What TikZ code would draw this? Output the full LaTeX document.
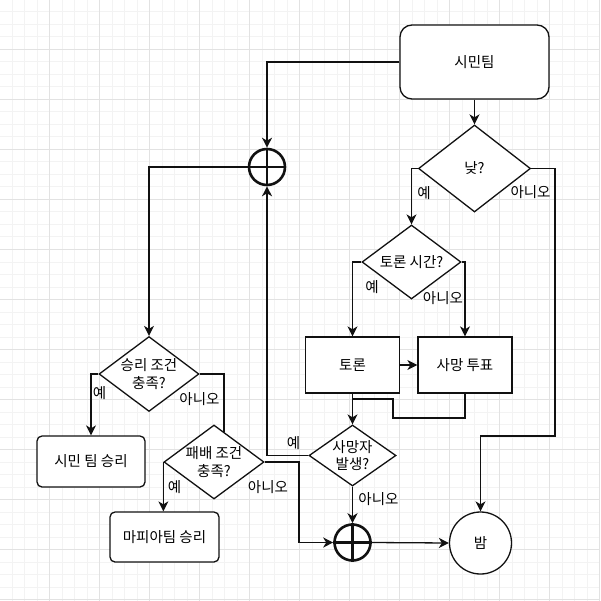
\documentclass[tikz,border=0pt]{standalone}
\usepackage{fontspec}
\setmainfont{Noto Sans CJK KR}
\usetikzlibrary{arrows.meta,shapes.geometric,calc}
\definecolor{gminor}{HTML}{F3F3F3}
\definecolor{gmajor}{HTML}{E2E2E2}
\definecolor{linec}{HTML}{111111}
\begin{document}
\begin{tikzpicture}[x=1pt,y=-1pt,
  font=\fontsize{14.5pt}{17.5pt}\selectfont,
  shp/.style={draw=linec, line width=1.3pt, fill=white, inner sep=0pt, align=center},
  rbox/.style={shp, rectangle, rounded corners=#1},
  sbox/.style={shp, rectangle},
  dia/.style={shp, diamond},
  cplus/.style={draw=linec, line width=2.6pt, circle, fill=white, inner sep=0pt, minimum size=36pt},
  crossl/.style={draw=linec, line width=2.6pt},
  edge/.style={draw=linec, line width=1.3pt},
  arr/.style={edge, -{Stealth[length=10pt,width=10pt,inset=3pt]}},
  elab/.style={inner sep=0pt},
  dlab/.style={label={[align=center]center:#1}}
]
\useasboundingbox (0,0) rectangle (600,601);
\fill[white] (0,0) rectangle (600,601);
\foreach \i in {1,...,48} {
  \draw[gminor, line width=1pt] ({12.5*\i-0.5},0) -- ({12.5*\i-0.5},601);
  \draw[gminor, line width=1pt] (0,{12.5*\i-0.5}) -- (600,{12.5*\i-0.5});
}
\foreach \i in {1,...,12} {
  \draw[gmajor, line width=1pt] ({50*\i-0.5},0) -- ({50*\i-0.5},601);
  \draw[gmajor, line width=1pt] (0,{50*\i-0.5}) -- (600,{50*\i-0.5});
}

% nodes
\node[rbox=12pt, minimum width=149pt, minimum height=74pt] (team) at (474.5,62) {시민팀};
\node[dia, minimum width=112pt, minimum height=87pt, dlab={낮?}] (day) at (474.5,168.5) {};
\node[dia, minimum width=99pt, minimum height=74pt, dlab={토론 시간?}] (debtime) at (411.5,262) {};
\node[sbox, minimum width=94pt, minimum height=56pt] (debate) at (352.5,365) {토론};
\node[sbox, minimum width=94pt, minimum height=56pt] (vote) at (465,365) {사망 투표};
\node[dia, minimum width=87pt, minimum height=61pt, dlab={사망자\\발생?}] (death) at (352.5,455.5) {};
\node[cplus] (p2) at (352.5,542.5) {};
\node[shp, circle, minimum size=62pt] (night) at (480.5,543) {밤};
\node[cplus] (p1) at (267,167) {};
\node[dia, minimum width=100pt, minimum height=75pt, dlab={승리 조건\\충족?}] (win) at (149,374) {};
\node[rbox=5pt, minimum width=108pt, minimum height=51pt] (civwin) at (91,461.5) {시민 팀 승리};
\node[dia, minimum width=100pt, minimum height=74pt, dlab={패배 조건\\충족?}] (lose) at (214,462) {};
\node[rbox=5pt, minimum width=109pt, minimum height=50pt] (mafwin) at (164.5,537) {마피아팀 승리};

\draw[crossl] (p1.north) -- (p1.south) (p1.west) -- (p1.east);
\draw[crossl] (p2.north) -- (p2.south) (p2.west) -- (p2.east);

% waypoints
\coordinate (w1) at (555,436);
\coordinate (w2) at (393,418);
\coordinate (w3) at (393,399);
\coordinate (w4) at (299,462);
\coordinate (w5) at ($(lose.north)!0.2!(lose.east)$);

% edges
\draw[arr] (team.south) -- (day.north);
\draw[arr] (day.west) -| (debtime.north);
\draw[arr] (day.east) -| (w1) -| (night.north);
\draw[arr] (debtime.west) -| (debate.north);
\draw[arr] (debtime.east) -| (vote.north);
\draw[arr] (debate.east) -- (vote.west);
\draw[arr] (debate.south) -- (death.north);
\draw[edge] (vote.south) |- (w2) -- (w3) -- (w3 -| debate.south);
\draw[arr] (death.west) -| (p1.south);
\draw[arr] (death.south) -- (p2.north);
\draw[arr] (p2.east) -- (night.west);
\draw[arr] (team.west) -| (p1.north);
\draw[arr] (p1.west) -| (win.north);
\draw[arr] (win.west) -| (civwin.north);
\draw[edge] (win.east) -| (w5);
\draw[arr] (lose.west) -- (lose.west |- mafwin.north);
\draw[arr] (lose.east) -- (w4) |- (p2.west);

% edge labels
\node[elab] (l1) at (424,193) {예};
\node[elab] (l2) at (530.5,192) {아니오};
\node[elab] (l3) at (372,287) {예};
\node[elab] (l4) at (443,298) {아니오};
\node[elab] (l5) at (99.5,393.5) {예};
\node[elab] (l6) at (199.5,399) {아니오};
\node[elab] (l7) at (174.5,487) {예};
\node[elab] (l8) at (268,487.5) {아니오};
\node[elab] (l9) at (293.5,443) {예};
\node[elab] (l10) at (378.5,499) {아니오};
\end{tikzpicture}
\end{document}
